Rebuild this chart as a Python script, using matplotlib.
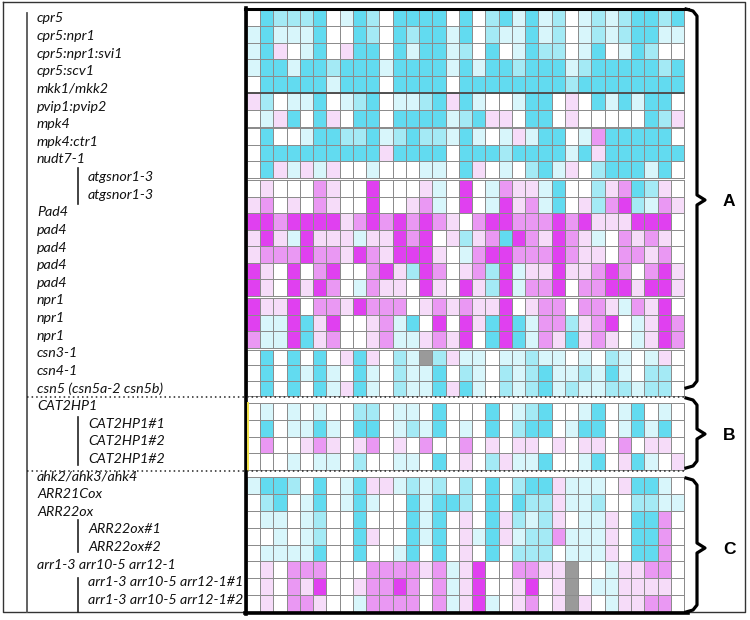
import numpy as np
import matplotlib
matplotlib.use("Agg")
import matplotlib.pyplot as plt
from matplotlib.colors import ListedColormap, BoundaryNorm

nan = np.nan

# row labels (left panel), in order from top to bottom
main_labels = ["cpr5", "cpr5:npr1", "cpr5:npr1:svi1", "cpr5:scv1", "mkk1/mkk2",
               "pvip1:pvip2", "mpk4", "mpk4:ctr1", "nudt7-1", None, None,
               "Pad4", "pad4", "pad4", "pad4", "pad4", "npr1", "npr1", "npr1",
               "csn3-1", "csn4-1", "csn5 (csn5a-2 csn5b)",
               "CAT2HP1", None, None, None,
               "ahk2/ahk3/ahk4", "ARR21Cox", "ARR22ox", None, None,
               "arr1-3 arr10-5 arr12-1", None, None]
sub_labels = {9: "atgsnor1-3", 10: "atgsnor1-3",
              23: "CAT2HP1#1", 24: "CAT2HP1#2", 25: "CAT2HP1#2",
              29: "ARR22ox#1", 30: "ARR22ox#2",
              32: "arr1-3 arr10-5 arr12-1#1", 33: "arr1-3 arr10-5 arr12-1#2"}
section_names = ["A", "B", "C"]

# cell values: + = cyan, - = magenta, nan = no data (grey)
values_A = [
    [0, 3, 2, 2, 2, 3, 0, 1, 3, 2, 0, 3, 3, 3, 3, 0, 3, 0, 2, 3, 1, 3, 1, 2, 0, 1, 2, 1, 2, 3, 3, 2, 3],
    [1, 3, 1, 1, 1, 3, 0, 0, 3, 2, 0, 3, 2, 3, 3, 1, 3, 0, 2, 1, 1, 3, 1, 2, 0, 1, 2, 1, 2, 3, 3, 1, 1],
    [1, 3, -1, 0, 1, 3, 0, -1, 3, 3, 0, 3, 1, 3, 3, 1, 2, 0, 3, 0, 1, 3, 2, 2, 0, 1, 3, 0, 1, 3, 2, 0, 0],
    [1, 3, 3, 1, 3, 3, 2, 3, 3, 3, 1, 3, 3, 3, 3, 1, 3, 1, 3, 3, 2, 3, 3, 3, 1, 2, 3, 3, 3, 3, 3, 2, 3],
    [0, 3, 3, 3, 3, 3, 1, 3, 3, 3, 0, 3, 3, 3, 3, 0, 3, 3, 3, 3, 3, 3, 3, 3, 2, 3, 3, 3, 3, 3, 3, 3, 3],
    [-1, 2, 0, 1, 1, 3, 0, 1, 2, 3, 0, 1, 1, 2, 3, -1, 3, 1, 0, 0, 1, 3, 3, 0, -1, 0, 3, 1, 3, 1, 3, 3, 0],
    [0, 1, -1, 3, 0, 3, -1, 0, 3, 3, 0, 3, 3, 3, 3, 1, 2, 3, -1, -1, 0, 3, 3, 0, -1, 0, 0, 0, 0, 0, 3, 2, -1],
    [0, 3, 0, 0, 1, 3, 3, 2, 2, 3, 1, 2, 3, 2, 2, 1, 3, 1, 0, 1, -1, 1, 3, 3, 0, 1, -2, 3, 3, 3, 3, 3, 0],
    [0, 3, 3, 3, 3, 3, 3, 3, 3, 3, -1, 3, 3, 3, 3, 0, 3, 3, 3, 2, 3, 3, 3, 3, 1, 3, -1, 3, 3, 3, 3, 3, 3],
    [0, 3, -1, 1, -1, 1, -1, 0, 0, 1, 0, 0, 0, 1, 1, 0, 3, -1, 0, 1, 0, 2, 3, 1, -1, 0, 2, 3, 3, 3, 1, 3, 0],
    [0, -1, 0, 0, 0, -2, -1, 0, 0, -3, 0, 0, 0, -1, 1, 0, -3, 0, 1, -2, -1, -1, 1, 3, 0, 0, 2, -1, -2, 3, 2, -1, 0],
    [-1, -2, 0, -1, 0, -2, -1, 0, 0, -3, 0, 0, -1, -2, 1, 0, -3, 0, 1, -3, -1, -2, 1, 3, 0, -1, 2, -2, -3, 2, 1, -2, -1],
    [-3, -3, -2, -3, -3, -3, -3, -1, -2, -3, -2, -3, -2, -3, -2, -1, 0, -2, -3, -3, -2, -2, -2, -3, -2, -3, -1, -1, -1, -3, -3, -3, 0],
    [-1, -3, -1, 1, -3, -1, -1, -1, 1, -1, -1, -3, -2, -3, 0, -1, 2, -1, -2, 3, -3, -2, -1, -3, -2, -1, 1, 0, -2, -1, -2, -1, 0],
    [-1, -2, -2, -2, -3, -2, -2, -1, -3, -2, -1, -3, -3, -3, -1, 0, 1, -2, -3, -3, -2, -2, -2, -3, -2, -1, -1, 0, -2, -2, -1, -2, 0],
    [-3, -1, 0, -3, 0, -2, -3, 0, 0, -2, -3, -1, 2, -3, -2, 0, -1, -2, 2, -3, 1, -1, -1, -3, -1, -1, -2, -3, -2, 0, -2, -3, -1],
    [-3, -1, 0, -3, -1, -3, -2, 0, 1, -2, -1, -1, 0, -3, -1, 0, -3, -1, 2, -3, 1, -2, -2, -3, 0, -2, -2, -3, -3, -1, -3, -3, -1],
    [-3, -1, -1, -3, 0, -2, -2, -1, -3, -2, -2, -2, 0, -1, -2, -1, -2, -1, -1, -3, 0, -1, -2, -2, 0, -2, -2, -1, 1, -2, -1, -3, 0],
    [-3, 1, 1, -3, 3, -1, -3, 0, 0, -1, -2, 1, 3, 0, -3, 0, -3, -1, 3, -3, 3, 1, -2, -2, 2, -1, -2, -3, 0, 1, -1, -3, -2],
    [-2, 1, 1, -3, 3, -1, -2, 0, 0, -1, -2, 1, 1, -1, -2, -1, -3, 0, 3, -3, 3, 1, -2, -1, 3, -1, -2, -1, 0, 1, -1, -3, -2],
    [0, 3, 0, 3, 0, 3, 0, -1, 3, -1, 0, 2, 1, nan, 2, -1, 1, 1, 0, 1, 1, 2, 1, 1, 0, 1, 0, 2, 1, 0, 1, -1, 0],
    [0, 3, 0, 3, 1, 3, 1, 0, 3, 1, 0, 2, 1, 1, 3, 0, 2, 1, 0, 2, 1, 2, 3, 1, 1, 2, 1, 3, 1, 0, 2, 2, 0],
    [0, 3, 0, 3, 0, 3, 1, -1, 3, 1, 0, 2, 1, 1, 3, -1, 3, 1, 0, 2, 1, 2, 3, 1, 2, 1, 1, 2, 2, 1, 2, 2, 0],
]
values_B = [
    [0, 1, 0, 1, 0, 1, 0, 0, 2, 2, 0, 1, 1, 0, 3, 0, 0, 0, 3, 0, 1, 2, 3, 0, 0, 1, 3, 0, 1, 3, 0, 1, 0],
    [0, 3, 0, 1, 1, 3, 1, 0, 3, 3, 0, 1, 2, 1, 3, 0, 1, 0, 3, 0, 2, 3, 3, 0, 1, 3, 3, 0, 1, 3, 1, 3, 0],
    [0, -2, 0, 0, -1, -2, -1, 0, -1, -2, 0, -1, 0, -2, 0, 0, -2, 0, -1, 0, -1, -1, 0, -1, 0, -1, -1, 0, -2, 0, -1, -1, 0],
    [0, 0, 0, 1, 0, 1, 1, 0, 2, 0, 0, 1, 1, 0, 3, 0, -1, 0, 2, -1, 1, 1, 3, 0, 0, 1, 3, 0, -1, 3, 1, 0, -1],
]
values_C = [
    [1, 3, 3, 2, 0, 3, 0, 1, 3, -1, -1, 1, 2, 1, 2, 0, 2, 0, 3, 0, 2, 3, 3, -1, 1, 1, 1, 0, -1, 3, 3, 1, 0],
    [0, 2, 3, 0, 1, 3, 0, 1, 3, 1, 0, 0, 3, 1, 3, 3, 2, 0, 3, 0, 3, 2, 2, -1, 1, 1, 2, 0, 0, 2, 2, 1, 1],
    [0, 1, 1, 0, 1, 2, 0, 0, 3, 0, 0, 0, 3, 1, 3, 0, -1, 0, 3, -1, 2, 1, 2, -1, 0, 1, 1, -1, 0, 3, 3, -2, 0],
    [0, 0, 1, 0, 1, 2, 0, 0, 3, -1, 0, 0, 3, 1, 3, 0, -1, 1, 3, -1, 1, 2, 2, -2, 1, 1, 1, -1, 0, 3, 3, -2, 0],
    [0, 1, 1, 1, 1, 3, 0, 0, 3, 0, 0, 1, 3, 0, 3, 0, -1, 0, 3, 0, 2, 2, 2, 0, 1, 1, 1, -1, 0, 3, 3, -2, 0],
    [0, -1, 0, -2, -2, -2, 0, 0, 0, -2, -2, -2, -2, -1, -2, 1, -1, -3, 0, 0, -2, -2, -1, -1, nan, 0, 0, 1, -1, -1, -2, -2, 0],
    [0, -1, 0, -2, -1, -3, 0, 0, -1, -2, -2, -3, -2, 0, -2, 1, -1, -3, 0, 0, -1, -3, 0, -1, nan, 0, 1, 1, -1, -1, -1, -1, 0],
    [0, -1, 0, -2, -2, -1, 0, 0, 1, -2, -2, -2, -2, 0, -2, 1, -1, -3, 1, 0, -1, -2, 0, -1, nan, -1, 0, 1, -1, -1, -2, -2, 0],
]

# ---- layout (pixel coordinates, y downwards) ----
W, H = 750, 620
fig = plt.figure(figsize=(W / 100, H / 100), dpi=100)
ax = fig.add_axes([0, 0, 1, 1])
ax.set_xlim(0, W)
ax.set_ylim(H, 0)
ax.axis("off")

cmap = ListedColormap(["#e040f0", "#ea98f3", "#f6dcf9", "#ffffff",
                       "#d8f6fb", "#a4eaf5", "#62dbf0"])
cmap.set_bad("#9a9a9a")
norm = BoundaryNorm(np.arange(-3.5, 4.5, 1.0), cmap.N)

x_edges = np.linspace(247, 684, 34)
# (values, first row, last row + 1, top y, bottom y) of each heatmap block
blocks = [(values_A, 0, 7, 9, 126.5), (values_A, 7, 10, 128, 178),
          (values_A, 10, 17, 180, 295.5), (values_A, 17, 20, 298, 347.5),
          (values_A, 20, 23, 350, 396), (values_B, 0, 4, 403, 470),
          (values_C, 0, 8, 477, 612)]
for vals, r0, r1, y0, y1 in blocks:
    data = np.array(vals[r0:r1], dtype=float)
    y_edges = np.linspace(y0, y1, r1 - r0 + 1)
    ax.pcolormesh(x_edges, y_edges, np.ma.masked_invalid(data), cmap=cmap,
                  norm=norm, edgecolors="#8c8c8c", linewidth=0.6)

# darker line under mkk1/mkk2
ax.plot([247, 684], [9 + 5 * (117.5 / 7)] * 2, color="#505050", lw=1.4)

# frame and heatmap borders
ax.plot([3, 745, 745, 3, 3], [2, 2, 612, 612, 2], color="#333333", lw=1.0)
ax.plot([246, 246], [8, 614], color="black", lw=2.6)
ax.plot([245, 688], [8.5, 8.5], color="black", lw=2.2)
ax.plot([245, 688], [613, 613], color="black", lw=2.6)
ax.plot([248, 248], [403, 470], color="#f2e24a", lw=1.4)

# left tree lines
ax.plot([27, 27], [13, 612], color="#555555", lw=1.3)
for y0, y1 in [(168, 204), (417, 465), (520, 552), (578, 612)]:
    ax.plot([77.5, 77.5], [y0, y1], color="#222222", lw=1.2)

# dotted section separators
for y in [397, 470.5]:
    ax.plot([27, 684], [y, y], color="#222222", lw=1.1, ls=(0, (1, 2)))

# labels
label_font = dict(family=["Lato", "DejaVu Sans"], style="italic",
                  fontsize=10.3, color="#111111", va="center")
for i, lab in enumerate(main_labels):
    y = 18.5 + 17.62 * i
    if lab is not None:
        ax.text(37, y, lab, ha="left", **label_font)
    if i in sub_labels:
        ax.text(88, y, sub_labels[i], ha="left", **label_font)

# section brackets
brackets = [(9, 388, 200), (398, 468, 434), (478, 612, 548)]
for name, (top, bot, mid) in zip(section_names, brackets):
    xs = [686, 693, 697, 697, 705, 697, 697, 693, 686]
    ys = [top, top + 2, top + 7, mid - 5, mid, mid + 5, bot - 7, bot - 2, bot]
    ax.plot(xs, ys, color="black", lw=2.3, solid_joinstyle="round")
    ax.text(729, mid + 1, name, ha="center", va="center", fontsize=12.5,
            fontweight="bold", family="Liberation Sans")

fig.savefig("out.png", dpi=100)
